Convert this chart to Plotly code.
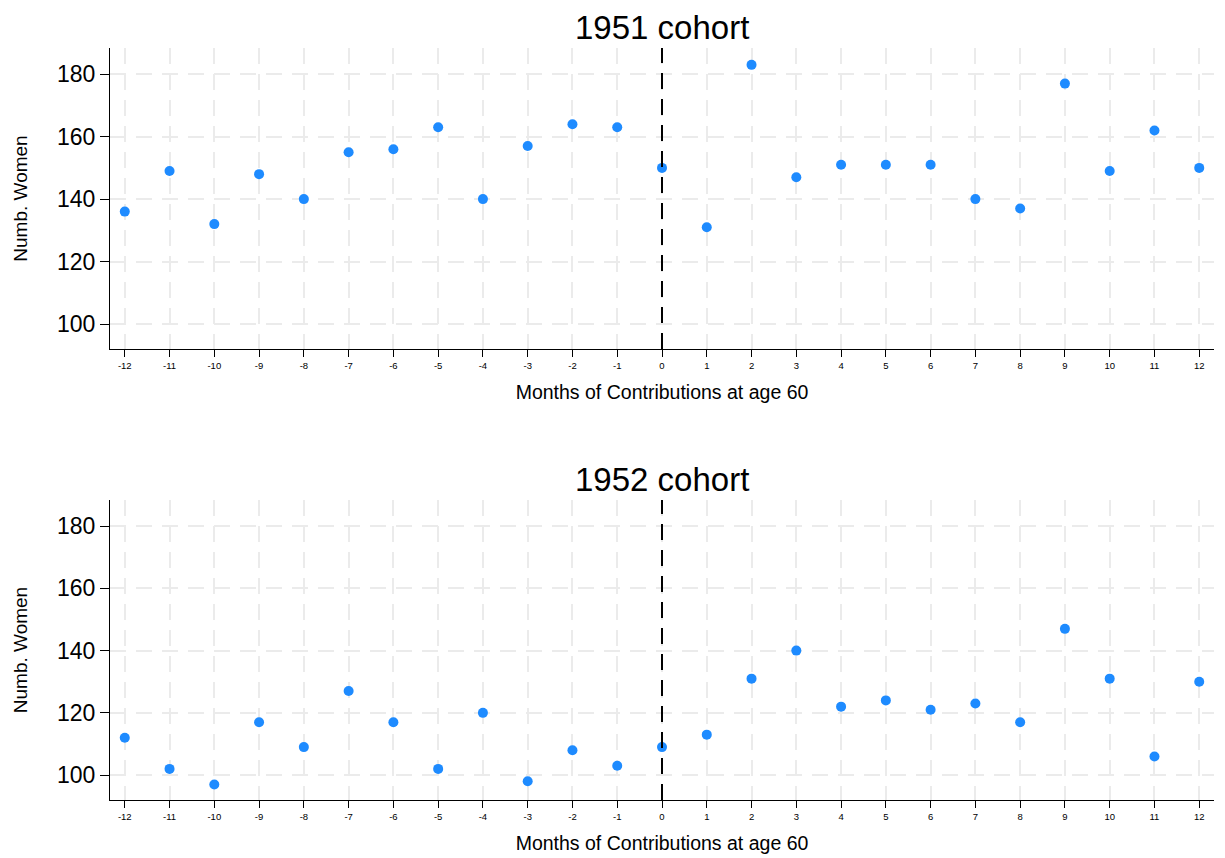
import plotly.graph_objects as go

months = list(range(-12, 13))
cohort_1951 = [136, 149, 132, 148, 140, 155, 156, 163, 140, 157, 164, 163, 150,
               131, 183, 147, 151, 151, 151, 140, 137, 177, 149, 162, 150]
cohort_1952 = [112, 102, 97, 117, 109, 127, 117, 102, 120, 98, 108, 103, 109,
               113, 131, 140, 122, 124, 121, 123, 117, 147, 131, 106, 130]
titles = ["1951 cohort", "1952 cohort"]
x_title = "Months of Contributions at age 60"
y_title = "Numb. Women"
y_ticks = [100, 120, 140, 160, 180]

H_PLOT = 752.0
fig = go.Figure()

doms = [[(800 - 349) / H_PLOT, 1.0], [0.0, 300 / H_PLOT]]
series = [cohort_1951, cohort_1952]
for i, (vals, dom) in enumerate(zip(series, doms)):
    xa = "x" if i == 0 else "x2"
    ya = "y" if i == 0 else "y2"
    fig.add_trace(go.Scatter(x=months, y=vals, mode="markers",
                             marker=dict(color="#1E8BFF", size=10),
                             xaxis=xa, yaxis=ya, showlegend=False))
    axkey = "" if i == 0 else "2"
    fig.layout["xaxis" + axkey] = dict(
        domain=[0, 1], anchor=ya, range=[-12.33, 12.33],
        tickvals=months, ticktext=[str(m) for m in months],
        tickfont=dict(size=9.5, color="black", family="Arial"),
        ticks="outside", ticklen=7, tickcolor="black", tickwidth=1.3,
        showline=True, linecolor="black", linewidth=1.3,
        showgrid=True, gridcolor="#EBEBEB", griddash="16px,10px", gridwidth=2,
        zeroline=False,
        title=dict(text=x_title, font=dict(size=19.5, color="black", family="Arial"), standoff=15),
    )
    fig.layout["yaxis" + axkey] = dict(
        domain=dom, anchor=xa, range=[92, 188.4],
        tickvals=y_ticks,
        tickfont=dict(size=23, color="black", family="Arial"),
        ticks="outside", ticklen=9, tickcolor="black", tickwidth=1.3,
        showline=True, linecolor="black", linewidth=1.3,
        showgrid=True, gridcolor="#EBEBEB", griddash="16px,10px", gridwidth=2,
        zeroline=False,
        title=dict(text=y_title, font=dict(size=19, color="black", family="Arial"), standoff=24),
    )
    fig.add_shape(type="line", xref=xa, yref=ya + " domain", x0=0, x1=0, y0=0, y1=1,
                  line=dict(color="black", width=2, dash="16px,10px"))
    fig.add_annotation(text=titles[i], xref="x domain" if i == 0 else "x2 domain",
                       yref=("y domain" if i == 0 else "y2 domain"),
                       x=0.5, y=1.0, yshift=1, showarrow=False, yanchor="bottom",
                       borderpad=0,
                       font=dict(size=33, color="black", family="Arial"))

fig.update_layout(width=1225, height=858, plot_bgcolor="white", paper_bgcolor="white",
                  margin=dict(l=98, r=19, t=40, b=66))
fig.write_html("out.html")
